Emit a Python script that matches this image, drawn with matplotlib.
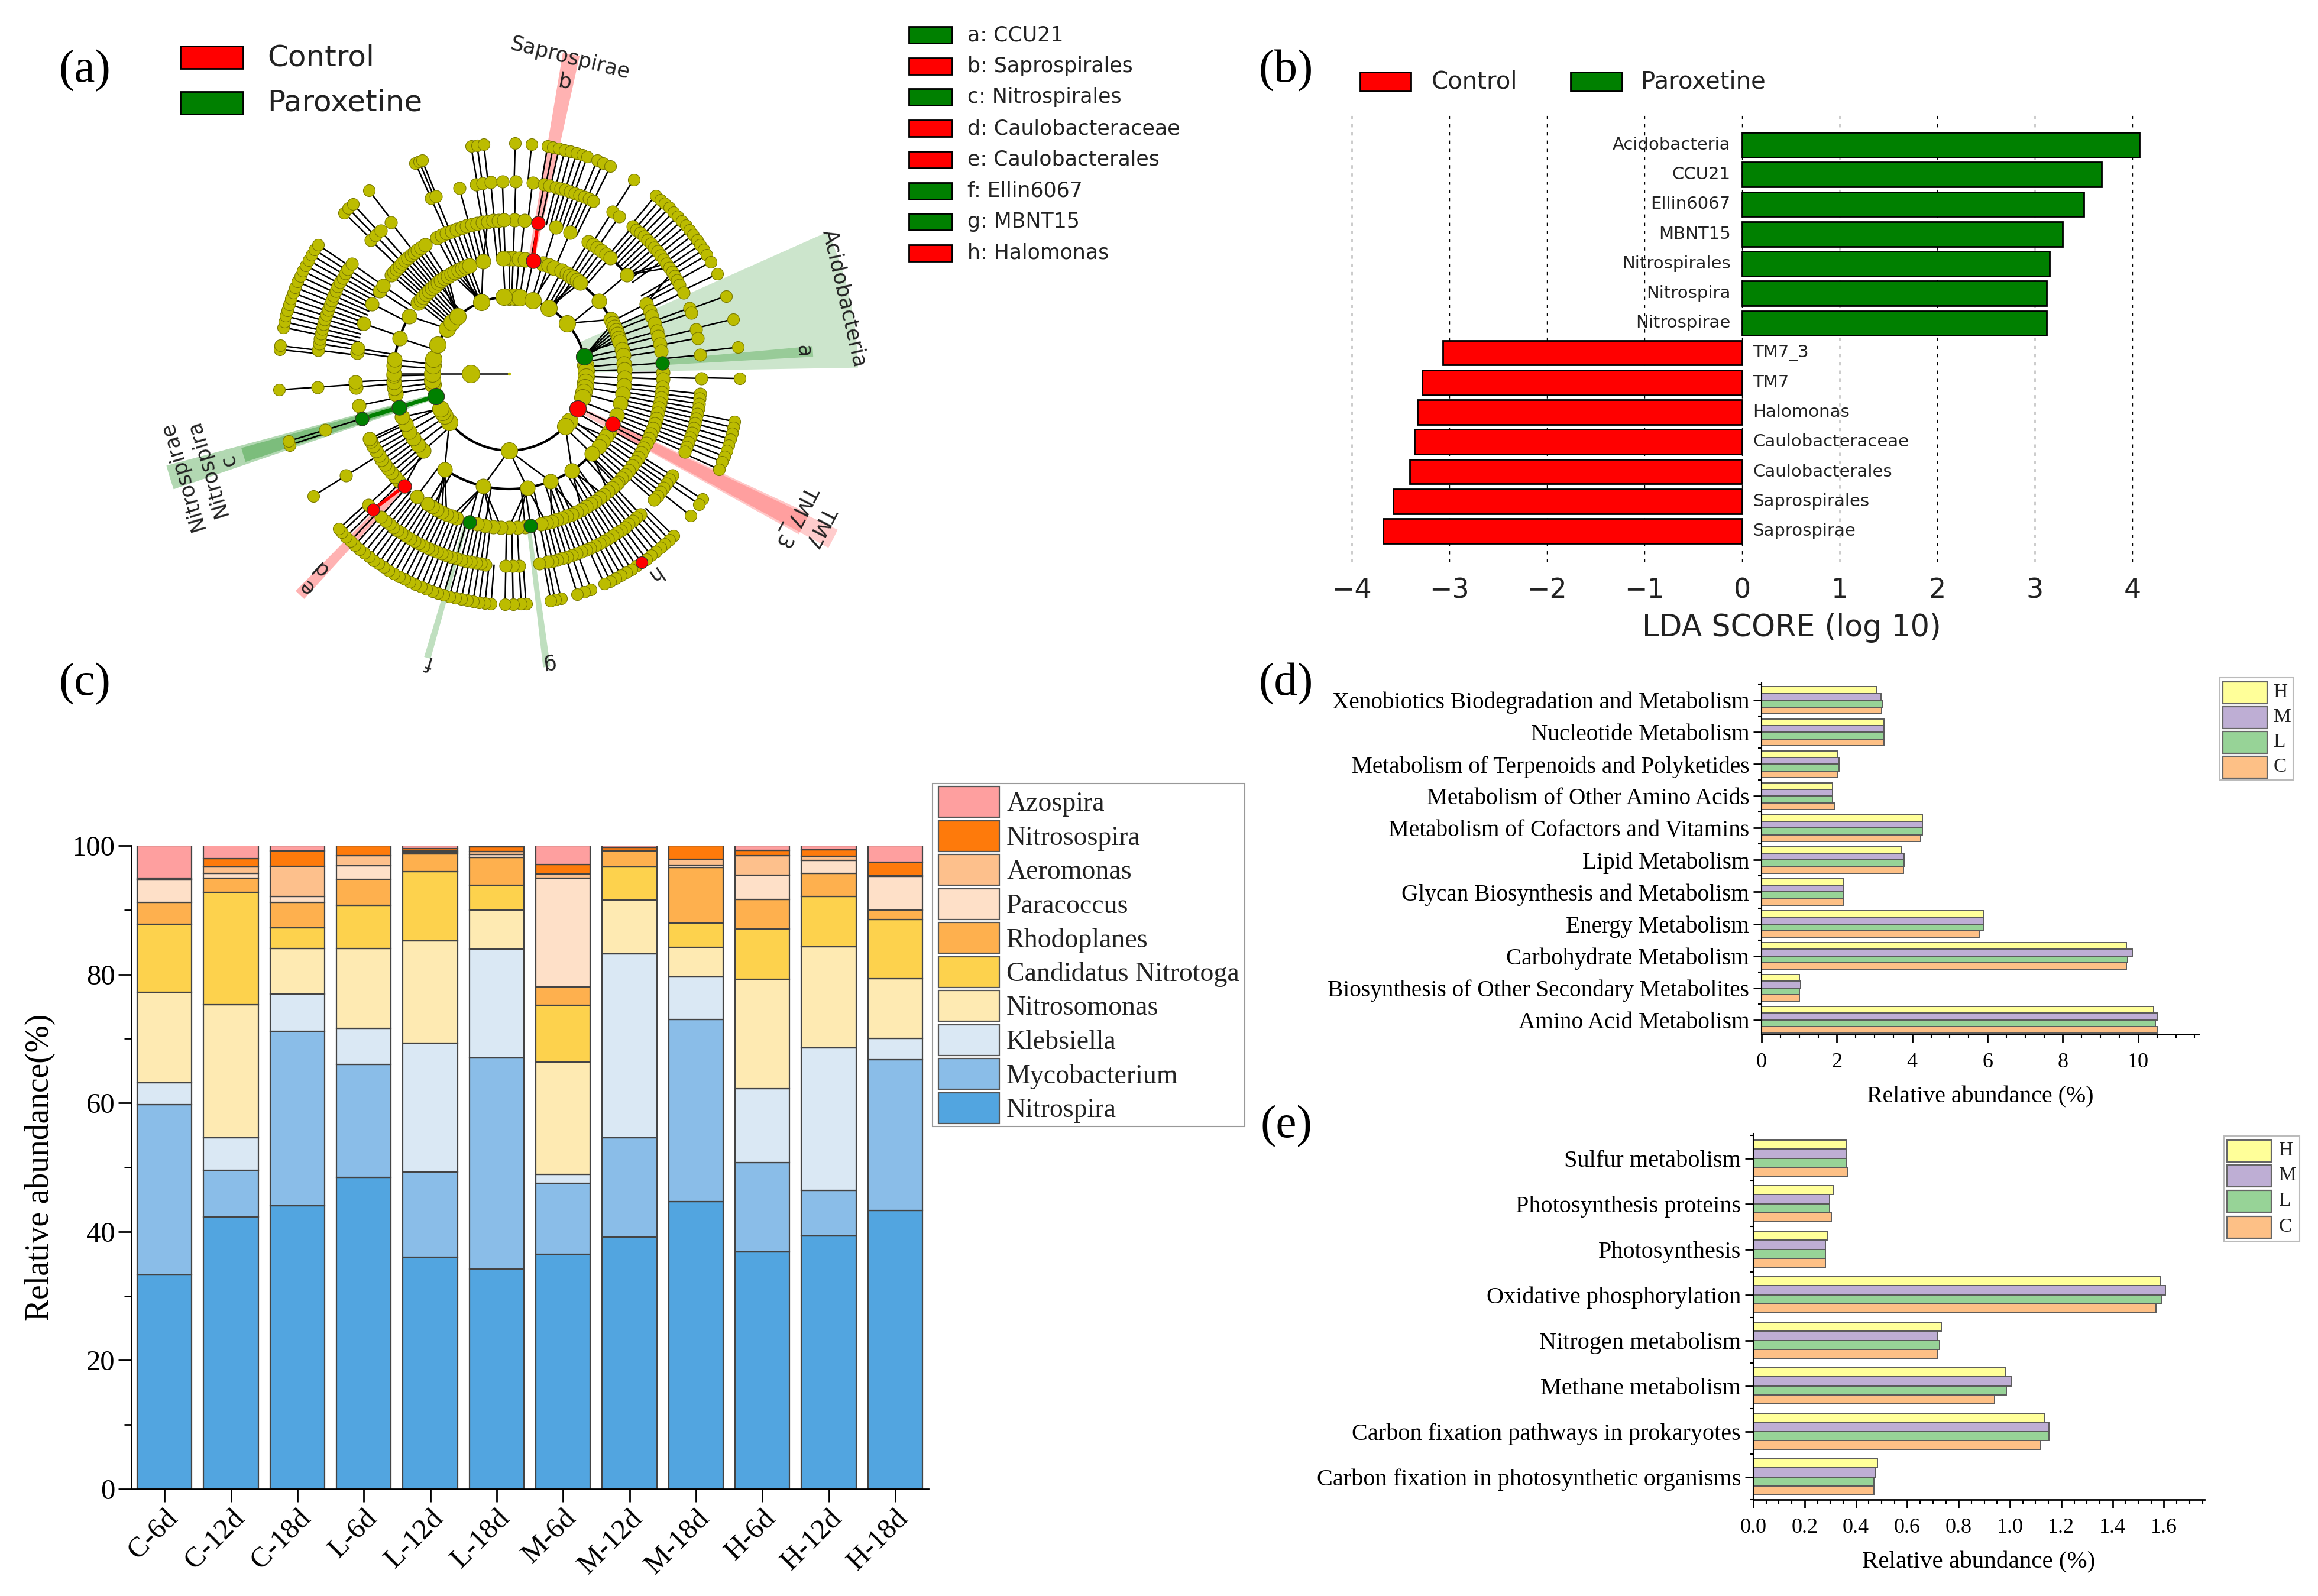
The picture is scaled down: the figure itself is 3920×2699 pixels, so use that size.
import numpy as np
import matplotlib
matplotlib.use("Agg")
import matplotlib.pyplot as plt
from matplotlib.patches import Rectangle, Polygon
from matplotlib.ticker import MultipleLocator

W, H = 3920, 2699
SERIF = "Liberation Serif"
SANS = "DejaVu Sans"

# panel (a): cladogram nodes, bearing in degrees clockwise from the top, one list per ring
ring1 = [270]
ring2 = [0, 4, 8, 18, 31, 49, 77, 84, 88, 92, 96, 100, 104, 108, 117, 128, 133, 180, 231, 237, 240,
         243, 253, 262, 265, 270, 276, 281, 292, 306, 312, 318, 339, 356]
ring3 = [0, 2, 5, 8, 12, 17, 20, 23, 27, 30, 32, 34, 36, 38, 51, 62, 64, 66, 68, 70, 72, 74, 78, 81, 85,
         88, 92, 96, 100, 105, 111, 116, 120, 123, 126, 129, 134, 147, 159, 171, 193, 214, 228, 232,
         236, 240, 244, 248, 253, 260, 263, 266, 269, 270, 274, 277, 288, 300, 308, 310, 312, 314, 316,
         318, 320, 322, 324, 326, 328, 330, 332, 334, 336, 338, 340, 347, 357]
ring4 = [2, 5.7, 10.8, 17.6, 23.4, 31, 33, 35, 37, 39, 41, 50, 63, 66, 68, 71, 74, 76, 79, 81.5, 86, 89.5,
         92, 95, 97, 99, 101, 103, 105, 107, 109, 111, 113, 115, 117, 119, 121, 123, 125, 127, 129, 131,
         133, 135, 136, 138, 140, 142, 144, 146, 148, 150, 152, 154, 156, 158, 160, 162, 164, 166, 168,
         172, 174, 177, 180, 183, 186, 189, 192, 195, 200, 202, 204, 206, 208, 210, 212, 217, 223, 226,
         228, 230, 232, 234, 236, 238, 240, 242, 244, 245, 253, 258, 265, 267, 278, 279.5, 289, 297,
         302.5, 305, 310, 311.5, 313, 314.5, 316, 317.5, 319, 320.5, 322, 323.5, 325, 327, 332, 334, 336,
         338, 340, 342, 344, 346, 348, 350, 352, 354, 356, 358]
ring5 = [2, 7, 10.5, 12, 14, 15.5, 17, 18.5, 20, 21.5, 23, 24.5, 26, 32.5, 35, 40, 41.5, 43, 44.5, 46, 47.5,
         49, 50.5, 52, 53.5, 55, 56.5, 58, 59.5, 61, 62.5, 65, 70, 71.6, 76.6, 79.3, 84.4, 91.4, 96, 97.5,
         99, 100.5, 102, 103.5, 105, 106.5, 108, 109.5, 111, 112.5, 114, 122, 123.5, 125, 126.5, 128,
         129.5, 131, 137, 138.5, 140, 141.5, 143, 144.5, 146, 147.5, 149, 150.5, 152, 153.5, 155, 156.5,
         158, 159.5, 161, 162.5, 164, 165.5, 167, 168.5, 171, 177, 179, 181, 187, 188.5, 190, 191.5, 193,
         194.5, 196, 197.5, 199, 200.5, 202, 203.5, 205, 206.5, 208, 209.5, 211, 212.5, 214, 215.5, 217,
         218.5, 220, 222, 225, 227, 238, 253, 266, 277, 279, 280.5, 282, 283.5, 285, 286.5, 288, 289.5,
         291, 292.5, 294, 295.5, 297, 298.5, 300, 301.5, 303, 305, 314, 316, 318, 322, 336, 337.5, 345,
         350, 352, 354.5, 358]
ring6 = [1.5, 5.6, 9.6, 11, 12.5, 14, 15.5, 17, 18.5, 19.8, 22.4, 24, 26, 32.7, 39.4, 41, 42.5, 44, 45.5, 47,
         48.5, 50, 51.5, 53, 54.5, 56, 57.5, 59, 61, 64.4, 70.3, 76.3, 83.4, 91.2, 102, 103.5, 105, 106.5,
         108, 109.5, 111, 112.5, 114.5, 123, 124.5, 128, 134.6, 136, 137.5, 139, 140.5, 142, 143.5, 145,
         146.5, 148, 149.5, 151, 152.5, 154, 155.6, 159.2, 161, 162.8, 167, 168.5, 169.6, 175.8, 177, 179,
         181, 184.5, 186, 187.5, 189, 190.5, 192, 193.5, 195, 196.5, 198, 199.5, 201, 202.5, 204, 205.5,
         207, 208.5, 210, 211.5, 213, 214.5, 216, 217.5, 219, 220.5, 222, 223.5, 225, 226.5, 227.7, 238,
         252, 253, 266, 276, 277, 281.6, 283, 284.5, 286, 287.5, 289, 290.5, 292, 293.5, 295, 296.5, 298,
         299.5, 301, 302.5, 304, 314.3, 315.8, 317.4, 322.6, 336, 337, 337.8, 350.5, 352, 353.7]
rings = [ring1, ring2, ring3, ring4, ring5, ring6]
green_nodes = [(2, 77), (2, 253), (3, 253), (4, 253), (4, 86), (4, 195), (4, 172)]
red_nodes = [(2, 117), (3, 116), (3, 12), (4, 10.8), (4, 223), (5, 225), (6, 145)]
key_labels = ["a: CCU21", "b: Saprospirales", "c: Nitrospirales", "d: Caulobacteraceae",
              "e: Caulobacterales", "f: Ellin6067", "g: MBNT15", "h: Halomonas"]
key_groups = ["P", "C", "P", "C", "C", "P", "P", "C"]

# panel (b)
lda_taxa = ["Saprospirae", "Saprospirales", "Caulobacterales", "Caulobacteraceae", "Halomonas", "TM7", "TM7_3",
            "Nitrospirae", "Nitrospira", "Nitrospirales", "MBNT15", "Ellin6067", "CCU21", "Acidobacteria"]
lda_scores = [-3.68, -3.58, -3.41, -3.36, -3.33, -3.28, -3.07, 3.12, 3.12, 3.15, 3.28, 3.5, 3.68, 4.07]

# panel (c)
samples = ["C-6d", "C-12d", "C-18d", "L-6d", "L-12d", "L-18d", "M-6d", "M-12d", "M-18d", "H-6d", "H-12d", "H-18d"]
nitrospira = [33.3, 42.3, 44.0, 48.4, 36.0, 34.2, 36.5, 39.2, 44.7, 36.9, 39.3, 43.3]
mycobacterium = [26.4, 7.2, 27.1, 17.6, 13.3, 32.8, 11.0, 15.4, 28.3, 13.8, 7.1, 23.4]
klebsiella = [3.4, 5.1, 5.8, 5.6, 20.0, 16.9, 1.4, 28.6, 6.6, 11.5, 22.2, 3.3]
nitrosomonas = [14.1, 20.7, 7.1, 12.4, 15.9, 6.1, 17.5, 8.3, 4.6, 17.0, 15.7, 9.3]
nitrotoga = [10.6, 17.4, 3.2, 6.7, 10.8, 3.8, 8.8, 5.2, 3.8, 7.8, 7.8, 9.2]
rhodoplanes = [3.4, 2.2, 4.0, 4.1, 2.7, 4.4, 2.8, 2.5, 8.6, 4.6, 3.6, 1.5]
paracoccus = [3.5, 0.8, 0.9, 2.1, 0.3, 0.4, 16.9, 0.0, 0.4, 3.8, 2.0, 5.2]
aeromonas = [0.1, 1.0, 4.7, 1.5, 0.2, 0.5, 0.7, 0.1, 0.9, 3.0, 0.6, 0.1]
nitrosospira = [0.1, 1.3, 2.4, 1.6, 0.3, 0.7, 1.5, 0.4, 2.1, 0.9, 1.1, 2.1]
azospira = [5.1, 2.1, 0.8, 0.0, 0.5, 0.2, 2.9, 0.3, 0.0, 0.7, 0.6, 2.6]
genus_names = ["Nitrospira", "Mycobacterium", "Klebsiella", "Nitrosomonas", "Candidatus Nitrotoga",
               "Rhodoplanes", "Paracoccus", "Aeromonas", "Nitrosospira", "Azospira"]
genus_values = [nitrospira, mycobacterium, klebsiella, nitrosomonas, nitrotoga,
                rhodoplanes, paracoccus, aeromonas, nitrosospira, azospira]
genus_colors = ["#52a5e0", "#8abde8", "#dae8f4", "#feeab2", "#fdd24d",
                "#feb04e", "#fee0c8", "#fdc08c", "#fe7a0b", "#fe9f9f"]

# panel (d)
kegg_names = ["Amino Acid Metabolism", "Biosynthesis of Other Secondary Metabolites", "Carbohydrate Metabolism",
              "Energy Metabolism", "Glycan Biosynthesis and Metabolism", "Lipid Metabolism",
              "Metabolism of Cofactors and Vitamins", "Metabolism of Other Amino Acids",
              "Metabolism of Terpenoids and Polyketides", "Nucleotide Metabolism",
              "Xenobiotics Biodegradation and Metabolism"]
kegg_h = [10.41, 1.0, 9.69, 5.89, 2.17, 3.72, 4.27, 1.89, 2.03, 3.25, 3.06]
kegg_m = [10.52, 1.03, 9.85, 5.89, 2.17, 3.79, 4.27, 1.89, 2.05, 3.25, 3.17]
kegg_l = [10.46, 1.0, 9.72, 5.89, 2.17, 3.79, 4.27, 1.89, 2.05, 3.25, 3.2]
kegg_c = [10.5, 1.0, 9.69, 5.78, 2.17, 3.77, 4.23, 1.94, 2.03, 3.25, 3.18]

# panel (e)
energy_names = ["Carbon fixation in photosynthetic organisms", "Carbon fixation pathways in prokaryotes",
                "Methane metabolism", "Nitrogen metabolism", "Oxidative phosphorylation", "Photosynthesis",
                "Photosynthesis proteins", "Sulfur metabolism"]
energy_h = [0.483, 1.135, 0.983, 0.733, 1.585, 0.288, 0.311, 0.361]
energy_m = [0.478, 1.153, 1.004, 0.72, 1.605, 0.281, 0.298, 0.361]
energy_l = [0.47, 1.153, 0.986, 0.725, 1.59, 0.281, 0.298, 0.361]
energy_c = [0.47, 1.12, 0.94, 0.72, 1.57, 0.281, 0.303, 0.367]

dose_names = ["H", "M", "L", "C"]
dose_colors = ["#ffff99", "#beaed4", "#97d397", "#fdc086"]

RED, GREEN, OLIVE = "#ff0000", "#008000", "#bcbc00"
CX, CY = 861, 632
RING_STEP = 65
NODE_PX = [30, 28, 25, 23, 21, 20]

fig = plt.figure(figsize=(W / 100, H / 100), dpi=100, facecolor="white")


def px_axes(left, top, right, bottom):
    return fig.add_axes([left / W, 1 - bottom / H, (right - left) / W, (bottom - top) / H], facecolor="none")


def polar(radius, bearing):
    t = np.radians(bearing)
    return CX + radius * np.sin(t), CY - radius * np.cos(t)


canvas = fig.add_axes([0, 0, 1, 1], facecolor="none")
canvas.set_xlim(0, W)
canvas.set_ylim(H, 0)
canvas.axis("off")


def wedge(t0, t1, r0, r1, color, alpha):
    t = np.linspace(t0, t1, 12)
    xa, ya = polar(r1, t)
    xb, yb = polar(r0, t[::-1])
    pts = np.column_stack([np.r_[xa, xb], np.r_[ya, yb]])
    canvas.add_patch(Polygon(pts, closed=True, fc=color, ec="none", alpha=alpha, zorder=1))


def arc(radius, t0, t1, lw=3.0):
    x, y = polar(radius, np.linspace(t0, t1, 60))
    canvas.plot(x, y, color="black", lw=lw, zorder=2, solid_capstyle="round")


def link(r0, t0, r1, t1, color="black", lw=1.8):
    x0, y0 = polar(r0, t0)
    x1, y1 = polar(r1, t1)
    canvas.plot([x0, x1], [y0, y1], color=color, lw=lw, zorder=2)


def nearest(angle, options):
    options = np.asarray(options, dtype=float)
    diff = np.abs((options - angle + 180) % 360 - 180)
    return options[np.argmin(diff)], diff.min()


def swatch(x0, x1, yc, h, color, edge="black", lw=2):
    canvas.add_patch(Rectangle((x0, yc - h / 2), x1 - x0, h, fc=color, ec=edge, lw=lw, zorder=5))


# ---- panel (a)
wedge(66, 89, 130, 590, GREEN, 0.2)
wedge(84.8, 86.8, 260, 515, GREEN, 0.25)
wedge(251, 255, 130, 600, GREEN, 0.3)
wedge(251.5, 254.5, 195, 470, GREEN, 0.3)
wedge(115, 119, 130, 560, RED, 0.22)
wedge(115.4, 118.6, 195, 615, RED, 0.2)
wedge(9.5, 12.5, 195, 550, RED, 0.3)
wedge(222.3, 224.5, 260, 515, RED, 0.3)
wedge(195.4, 196.7, 260, 500, GREEN, 0.25)
wedge(172, 173.4, 260, 500, GREEN, 0.25)

arc(RING_STEP * 2, 0, 360)
for t0, t1 in [(134, 171), (171, 214), (277, 300), (38, 62)]:
    arc(RING_STEP * 3, t0, t1)
arc(RING_STEP * 4, 42, 50)

link(0, 270, RING_STEP, 270)
link(RING_STEP, 270, RING_STEP * 2, 270)
for level in range(2, 6):
    for angle in rings[level]:
        parent, gap = nearest(angle, rings[level - 1])
        # fans run side by side in the original, only lone branches slant
        link(RING_STEP * (level + 1), angle, RING_STEP * level, angle if gap <= 4 else parent)

link(RING_STEP * 3, 12, RING_STEP * 4, 10.8, RED, 4)
link(RING_STEP * 4, 223, RING_STEP * 5, 225, RED, 4)
link(RING_STEP * 2, 253, RING_STEP * 4, 253, GREEN, 5)

for level, angles in enumerate(rings):
    xs, ys = polar(RING_STEP * (level + 1), np.asarray(angles, dtype=float))
    canvas.scatter(xs, ys, s=(NODE_PX[level] * 0.72) ** 2, c=OLIVE, edgecolors="#7a7a00", linewidths=0.8, zorder=3)
for nodes, color in [(green_nodes, GREEN), (red_nodes, RED)]:
    for level, angle in nodes:
        x, y = polar(RING_STEP * level, angle)
        canvas.scatter([x], [y], s=(NODE_PX[level - 1] * 0.72) ** 2, c=color, edgecolors="#333333", linewidths=0.8, zorder=4)
canvas.scatter([CX], [CY], s=8, c=OLIVE, zorder=3)

clade_labels = [("Acidobacteria", 1428, 505, -77, 25), ("Saprospirae", 964, 99, -14, 25),
                ("Nitrospirae", 308, 805, 107, 25), ("Nitrospira", 351, 792, 107, 25),
                ("TM7", 1386, 891, -117, 25), ("TM7_3", 1346, 873, -117, 25),
                ("a", 1359, 594, -86, 25), ("b", 956, 139, -10, 25), ("c", 386, 779, 107, 25),
                ("d", 542, 961, 137, 25), ("e", 518, 992, 137, 25), ("f", 726, 1120, 164, 25),
                ("g", 928, 1122, -172, 25), ("h", 1105, 972, -145, 25)]
for text, x, y, rot, size in clade_labels:
    canvas.text(x, y, text, rotation=rot, fontsize=size, family=SANS, ha="center", va="center", color="#222222", zorder=6)

swatch(305, 411, 97, 38, RED)
swatch(305, 411, 174, 38, GREEN)
canvas.text(452, 97, "Control", fontsize=36, family=SANS, va="center", color="#222222")
canvas.text(452, 174, "Paroxetine", fontsize=36, family=SANS, va="center", color="#222222")

for i, (label, group) in enumerate(zip(key_labels, key_groups)):
    y = 59 + i * 52.7
    swatch(1537, 1610, y, 28, GREEN if group == "P" else RED)
    canvas.text(1636, y, label, fontsize=25, family=SANS, va="center", color="#222222")

# ---- panel (b)
ax_b = px_axes(2278, 194, 3623, 951)
pos_b = np.arange(len(lda_taxa))
ax_b.barh(pos_b, lda_scores, height=0.83, color=[RED if v < 0 else GREEN for v in lda_scores],
          edgecolor="black", linewidth=2, zorder=3)
ax_b.set_xlim(-4.05, 4.1)
ax_b.set_ylim(-1.056, 14.016)
ax_b.set_xticks(range(-4, 5))
ax_b.set_yticks([])
ax_b.tick_params(axis="x", length=0, labelsize=33, pad=18, labelcolor="#222222")
for lab in ax_b.get_xticklabels():
    lab.set_family(SANS)
ax_b.grid(axis="x", color="black", lw=1.0, ls=(0, (4, 6)), zorder=1)
for side in ax_b.spines.values():
    side.set_visible(False)
canvas.text(3030, 1062, "LDA SCORE (log 10)", fontsize=36.5, family=SANS, ha="center", va="center", color="#222222")
for y, name, score in zip(pos_b, lda_taxa, lda_scores):
    if score > 0:
        ax_b.text(-0.12, y, name, ha="right", va="center", fontsize=21, family=SANS, color="#222222", zorder=4)
    else:
        ax_b.text(0.11, y, name, ha="left", va="center", fontsize=21, family=SANS, color="#222222", zorder=4)
swatch(2300, 2386, 138, 32, RED)
swatch(2656, 2743, 138, 32, GREEN)
canvas.text(2421, 138, "Control", fontsize=29, family=SANS, va="center", color="#222222")
canvas.text(2775, 138, "Paroxetine", fontsize=29, family=SANS, va="center", color="#222222")

# ---- panel (c)
ax_c = px_axes(222, 1430, 1570, 2518)
bottom = np.zeros(len(samples))
pos_c = np.arange(len(samples))
for values, color in zip(genus_values, genus_colors):
    ax_c.bar(pos_c, values, width=0.82, bottom=bottom, color=color, edgecolor="#444444", linewidth=1.6)
    bottom += np.asarray(values)
ax_c.set_xlim(-0.5, 11.5)
ax_c.set_ylim(0, 100)
ax_c.set_xticks(pos_c)
ax_c.set_xticklabels(samples, rotation=45, ha="right", rotation_mode="anchor", fontsize=34, family=SERIF)
ax_c.set_yticks(range(0, 101, 20))
ax_c.yaxis.set_minor_locator(MultipleLocator(10))
ax_c.tick_params(axis="both", which="major", length=16, width=2, labelsize=35)
ax_c.tick_params(axis="y", which="minor", length=9, width=2)
for lab in ax_c.get_yticklabels():
    lab.set_family(SERIF)
ax_c.set_ylabel("Relative abundance(%)", fontsize=40, family=SERIF, labelpad=20)
ax_c.spines[["top", "right"]].set_visible(False)
ax_c.spines[["left", "bottom"]].set_linewidth(2)

canvas.add_patch(Rectangle((1577, 1325), 528, 580, fc="white", ec="#999999", lw=1.5, zorder=4))
for i, (name, color) in enumerate(zip(genus_names[::-1], genus_colors[::-1])):
    y = 1356 + i * 57.5
    swatch(1587, 1690, y, 52, color, "#555555", 1.6)
    canvas.text(1702, y + 4, name, fontsize=33, family=SERIF, va="center", zorder=6, color="#222222")


# ---- panels (d) and (e)
def dose_panel(box, names, series, ylim, bar_h, xlim, major, minor, fmt, font, legend_box, legend_rows, text_x):
    ax = px_axes(*box)
    pos = np.arange(len(names))
    for values, color, shift in zip(series, dose_colors, [1.5, 0.5, -0.5, -1.5]):
        ax.barh(pos + shift * bar_h, values, height=bar_h, color=color, edgecolor="#5a5a5a", linewidth=1.4)
    ax.set_xlim(*xlim)
    ax.set_ylim(*ylim)
    ax.set_yticks(pos)
    ax.set_yticklabels(names, fontsize=font, family=SERIF)
    ax.yaxis.set_minor_locator(MultipleLocator(1, offset=0.5))
    ax.xaxis.set_major_locator(MultipleLocator(major))
    ax.xaxis.set_minor_locator(MultipleLocator(minor))
    ax.xaxis.set_major_formatter(fmt)
    ax.tick_params(axis="y", which="major", length=10, width=2, pad=5)
    ax.tick_params(axis="y", which="minor", length=4, width=1.5)
    ax.tick_params(axis="x", which="major", length=10, width=2, labelsize=26, pad=12)
    ax.tick_params(axis="x", which="minor", length=5, width=1.5)
    for lab in ax.get_xticklabels():
        lab.set_family(SERIF)
    ax.spines[["top", "right"]].set_visible(False)
    ax.spines["bottom"].set_linewidth(2)
    ax.spines["left"].set_linewidth(1.5)
    ax.set_xlabel("Relative abundance (%)", fontsize=font + 0.5, family=SERIF, labelpad=17)
    lx0, ly0, lx1, ly1 = legend_box
    canvas.add_patch(Rectangle((lx0, ly0), lx1 - lx0, ly1 - ly0, fc="white", ec="#bbbbbb", lw=1.5, zorder=4))
    for name, color, y in zip(dose_names, dose_colors, legend_rows):
        swatch(lx0 + 5, lx0 + 80, y, 37, color, "#666666", 1.6)
        canvas.text(text_x, y, name, fontsize=24, family=SERIF, va="center", zorder=6, color="#222222")
    return ax


ax_d = dose_panel((2979, 1155, 3719, 1749), kegg_names, [kegg_h, kegg_m, kegg_l, kegg_c], (-0.45, 10.54), 0.21,
                  (0, 11.62), 2, 0.5, "{x:.0f}", 28.3, (3754, 1146, 3878, 1319), [1171, 1213, 1255, 1297], 3845)
ax_e = dose_panel((2965, 1917, 3728, 2536), energy_names, [energy_h, energy_m, energy_l, energy_c], (-0.5, 7.54), 0.2,
                  (0, 1.758), 0.2, 0.05, "{x:.1f}", 29, (3761, 1921, 3889, 2099), [1946, 1988, 2031, 2075], 3854)

for tag, x, y in [("(a)", 143, 120), ("(b)", 2175, 120), ("(c)", 143, 1157), ("(d)", 2175, 1157), ("(e)", 2175, 1905)]:
    canvas.text(x, y, tag, fontsize=57, family=SERIF, ha="center", va="center", color="black")

fig.savefig("out.png", dpi=100)
